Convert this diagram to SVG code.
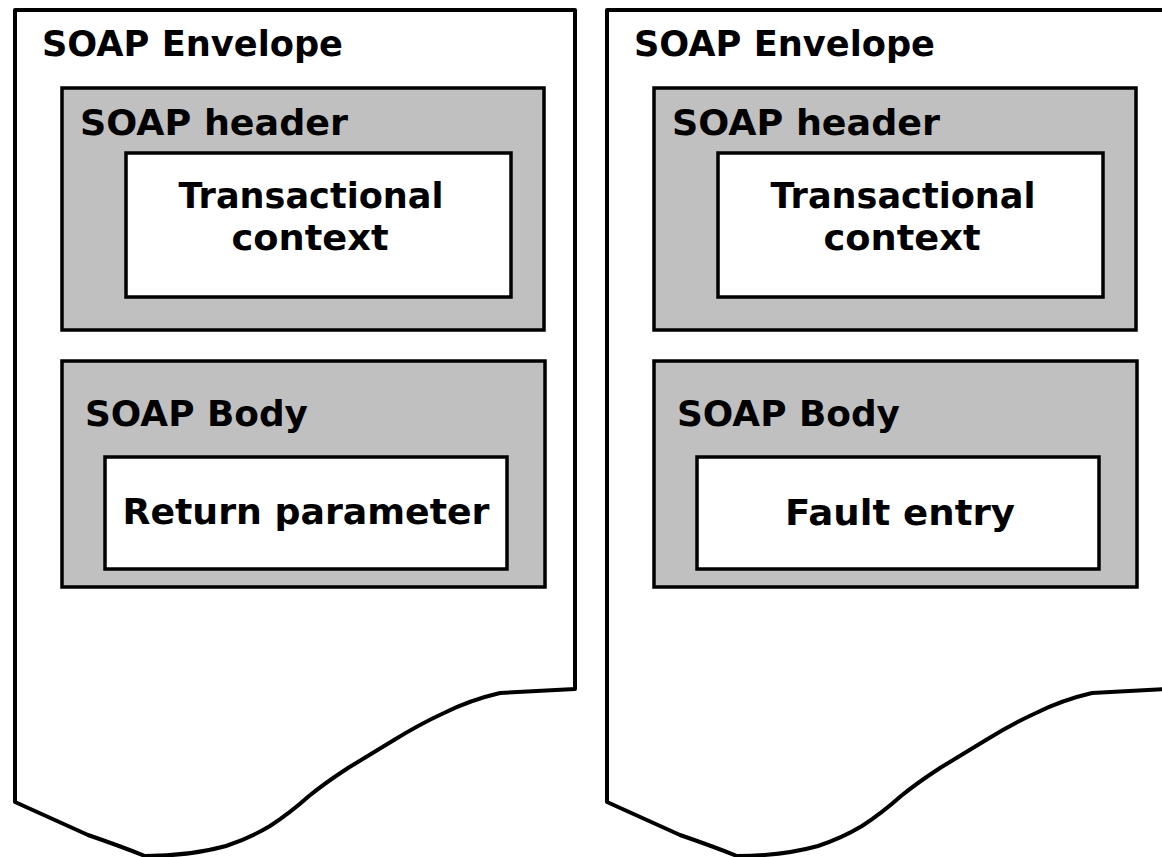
<svg xmlns="http://www.w3.org/2000/svg" width="1162" height="857" viewBox="0 0 1162 857">
<defs>
<style>
.env{fill:#fff;stroke:#000;stroke-width:4;stroke-linejoin:round}
.gray{fill:#c0c0c0;stroke:#000;stroke-width:3.5}
.white{fill:#fff;stroke:#000;stroke-width:3.5}
text{font-family:"DejaVu Sans","Liberation Sans",sans-serif;font-weight:bold;font-size:36px;fill:#000}
.c{text-anchor:middle}
</style>
<path id="envShape" d="M15,10 H575 V689 L500,693 Q470,700 444,713 Q420,724 394,740 L348,768 Q325,783 309,796 Q290,813 270,826 Q250,838 226,846 Q190,856 145,856 Q120,846 88,835 L15,802 Z"/>
</defs>
<rect width="1162" height="857" fill="#fff"/>
<g id="envelope-request">
<use href="#envShape" class="env"/>
<text x="42" y="56" textLength="301" lengthAdjust="spacingAndGlyphs">SOAP Envelope</text>
</g>
<g id="header-left">
<rect class="gray" x="62" y="88" width="482" height="242"/>
<text x="80" y="135" textLength="268" lengthAdjust="spacingAndGlyphs">SOAP header</text>
</g>
<g id="txctx-left">
<rect class="white" x="126" y="153" width="385" height="144"/>
<text class="c" x="311" y="208" textLength="265" lengthAdjust="spacingAndGlyphs">Transactional</text>
<text class="c" x="310" y="250" textLength="157" lengthAdjust="spacingAndGlyphs">context</text>
</g>
<g id="body-left">
<rect class="gray" x="62" y="361" width="483" height="226"/>
<text x="85" y="426" textLength="223" lengthAdjust="spacingAndGlyphs">SOAP Body</text>
</g>
<g id="return-param">
<rect class="white" x="105" y="457" width="402" height="112"/>
<text class="c" x="306" y="524" textLength="367" lengthAdjust="spacingAndGlyphs">Return parameter</text>
</g>
<g id="envelope-fault">
<use href="#envShape" class="env" transform="translate(592,0)"/>
<text x="634" y="56" textLength="301" lengthAdjust="spacingAndGlyphs">SOAP Envelope</text>
</g>
<g id="header-right">
<rect class="gray" x="654" y="88" width="482" height="242"/>
<text x="672" y="135" textLength="268" lengthAdjust="spacingAndGlyphs">SOAP header</text>
</g>
<g id="txctx-right">
<rect class="white" x="718" y="153" width="385" height="144"/>
<text class="c" x="903" y="208" textLength="265" lengthAdjust="spacingAndGlyphs">Transactional</text>
<text class="c" x="902" y="250" textLength="157" lengthAdjust="spacingAndGlyphs">context</text>
</g>
<g id="body-right">
<rect class="gray" x="654" y="361" width="483" height="226"/>
<text x="677" y="426" textLength="223" lengthAdjust="spacingAndGlyphs">SOAP Body</text>
</g>
<g id="fault-entry">
<rect class="white" x="697" y="457" width="402" height="112"/>
<text class="c" x="900" y="525" textLength="230" lengthAdjust="spacingAndGlyphs">Fault entry</text>
</g>
<g id="connectors"></g>
</svg>
